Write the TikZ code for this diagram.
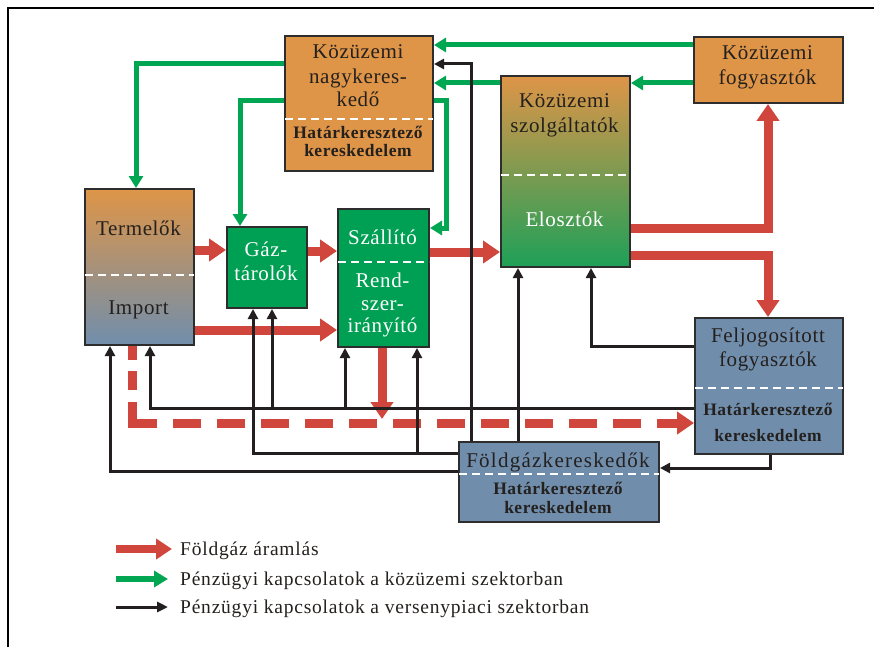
\documentclass[tikz,border=0pt]{standalone}
\usepackage{fontspec}
\setmainfont{Liberation Serif}[LetterSpace=3]
\usetikzlibrary{arrows.meta}
\pgfdeclarelayer{bg}
\pgfsetlayers{bg,main}
\definecolor{orng}{RGB}{222,149,72}
\definecolor{gbox}{RGB}{0,160,84}
\definecolor{bgray}{RGB}{112,142,172}
\definecolor{redc}{RGB}{208,70,60}
\definecolor{greenc}{RGB}{0,166,81}
\definecolor{blkc}{RGB}{35,31,32}
\definecolor{txtc}{RGB}{36,32,30}
\definecolor{bordc}{RGB}{45,45,45}
\definecolor{olive}{RGB}{158,160,82}
\definecolor{ksgreen}{RGB}{30,160,88}
\begin{document}
\begin{tikzpicture}[x=1pt,y=-1pt,
  box/.style={draw=bordc, line width=2pt, inner sep=0pt, anchor=north west},
  sep/.style={draw=white, line width=2.5pt, dash pattern=on 8pt off 5pt},
  t/.style={anchor=base, inner sep=0pt, font=\fontsize{21}{24}\selectfont, text=txtc},
  tb/.style={anchor=base, inner sep=0pt, font=\fontsize{17.5}{19}\selectfont\bfseries, text=txtc},
  tw/.style={anchor=base, inner sep=0pt, font=\fontsize{21}{24}\selectfont, text=white},
  tl/.style={anchor=base west, inner sep=0pt, font=\fontsize{19.5}{23}\selectfont\addfontfeatures{LetterSpace=4}, text=txtc},
  rarr/.style={draw=redc, line width=9pt, -{Triangle[length=17pt,width=22pt]}},
  garr/.style={draw=greenc, line width=5pt, -{Triangle[length=12pt,width=14pt]}},
  barr/.style={draw=blkc, line width=3pt, -{Triangle[length=10pt,width=10pt]}}
]
\useasboundingbox (0,0) rectangle (874,647);
\begin{pgfonlayer}{bg}
\fill[white] (0,0) rectangle (874,647);
\end{pgfonlayer}
\draw[line width=2.5pt, draw=black] (8,647) -- (8,8) -- (874,8);

% boxes
\node[box, fill=orng, minimum width=148pt, minimum height=135pt] (KN) at (284,35) {};
\node[box, fill=orng, minimum width=149pt, minimum height=66pt] (KF) at (693,36) {};
\node[box, top color=orng, middle color=olive, bottom color=ksgreen, minimum width=129pt, minimum height=191pt] (KS) at (500,75) {};
\node[box, top color=orng, bottom color=bgray, minimum width=109pt, minimum height=156pt] (TI) at (84,188) {};
\node[box, fill=gbox, minimum width=80pt, minimum height=81pt] (GT) at (226,226) {};
\node[box, fill=gbox, minimum width=91pt, minimum height=138pt] (SR) at (337,208) {};
\node[box, fill=bgray, minimum width=148pt, minimum height=136pt] (FF) at (694,317) {};
\node[box, fill=bgray, minimum width=200pt, minimum height=80pt] (FK) at (458,441) {};

% separators
\draw[sep] ([xshift=1pt]KN.west |- 0,119) -- ([xshift=-1pt]KN.east |- 0,119);
\draw[sep] ([xshift=1pt]KS.west |- 0,175) -- ([xshift=-1pt]KS.east |- 0,175);
\draw[sep] ([xshift=1pt]TI.west |- 0,275) -- ([xshift=-1pt]TI.east |- 0,275);
\draw[sep] ([xshift=1pt]SR.west |- 0,262) -- ([xshift=-1pt]SR.east |- 0,262);
\draw[sep] ([xshift=1pt]FF.west |- 0,388) -- ([xshift=-1pt]FF.east |- 0,388);
\draw[sep] ([xshift=1pt]FK.west |- 0,474) -- ([xshift=-1pt]FK.east |- 0,474);

% texts
\node[t] (kn1) at (358,59) {Közüzemi};
\node[t] (kn2) at (358,84) {nagykeres-};
\node[t] (kn3) at (358,107) {kedő};
\node[tb] (kn4) at (358,139) {Határkeresztező};
\node[tb] (kn5) at (358,157) {kereskedelem};
\node[t] (kf1) at (767.5,60) {Közüzemi};
\node[t] (kf2) at (767.5,85) {fogyasztók};
\node[t] (ks1) at (564.5,108) {Közüzemi};
\node[t] (ks2) at (564.5,133) {szolgáltatók};
\node[tw] (ks3) at (564.5,226) {Elosztók};
\node[t] (ti1) at (138.5,235) {Termelők};
\node[t] (ti2) at (138.5,314) {Import};
\node[tw] (gt1) at (266,256) {Gáz-};
\node[tw] (gt2) at (266,280) {tárolók};
\node[tw] (sr1) at (382.5,244) {Szállító};
\node[tw] (sr2) at (382.5,287) {Rend-};
\node[tw] (sr3) at (382.5,310) {szer-};
\node[tw] (sr4) at (382.5,332) {irányító};
\node[t] (ff1) at (768,342) {Feljogosított};
\node[t] (ff2) at (768,366) {fogyasztók};
\node[tb] (ff3) at (768,415) {Határkeresztező};
\node[tb] (ff4) at (768,441) {kereskedelem};
\node[t, font=\fontsize{21}{24}\selectfont\addfontfeatures{LetterSpace=6}] (fk1) at (558,467) {Földgázkereskedők};
\node[tb] (fk2) at (558,494) {Határkeresztező};
\node[tb] (fk3) at (558,513) {kereskedelem};

% legend
\coordinate (lr1) at (116,549); \coordinate (lr2) at (172,549);
\coordinate (lg1) at (116,579); \coordinate (lg2) at (168,579);
\coordinate (lb1) at (116,607); \coordinate (lb2) at (168,607);
\draw[rarr, line width=8pt, -{Triangle[length=16pt,width=20pt]}] (lr1) -- (lr2);
\draw[garr, line width=6pt, -{Triangle[length=14pt,width=16pt]}] (lg1) -- (lg2);
\draw[barr, line width=3pt, -{Triangle[length=11pt,width=10pt]}] (lb1) -- (lb2);
\node[tl] (leg1) at (180,555) {Földgáz áramlás};
\node[tl] (leg2) at (180,585) {Pénzügyi kapcsolatok a közüzemi szektorban};
\node[tl] (leg3) at (180,613) {Pénzügyi kapcsolatok a versenypiaci szektorban};

\begin{pgfonlayer}{bg}
% red flows
\draw[rarr] (TI.east |- 0,250) -- (GT.west |- 0,250);
\draw[rarr] (GT.east |- 0,251) -- (SR.west |- 0,251);
\draw[rarr] (TI.east |- 0,330) -- (SR.west |- 0,330);
\draw[rarr] (SR.east |- 0,252) -- (KS.west |- 0,252);
\draw[rarr] (KS.east |- 0,228) -| (KF.south -| 768,0);
\draw[rarr] (KS.east |- 0,255) -| (FF.north -| 768,0);
\coordinate (rtip) at (382,419);
\draw[rarr] (SR.south -| 382,0) -- (rtip);
\draw[rarr, dash pattern=on 14pt off 11pt on 19pt off 12pt on 46pt off 16pt on 28pt off 16pt on 28pt off 16pt on 28pt off 16pt on 28pt off 16pt on 28pt off 16pt on 28pt off 16pt on 28pt off 16pt on 28pt off 16pt on 28pt off 16pt on 28pt off 16pt on 28pt off 16pt on 28pt off 16pt on 28pt off 16pt on 28pt off 16pt] (TI.south -| 132,0) |- (FF.west |- 0,423);
% green flows
\draw[garr] (KF.west |- 0,45) -- (KN.east |- 0,45);
\draw[garr] (KF.west |- 0,83) -- (KS.east |- 0,83);
\draw[garr] (KS.west |- 0,83) -- (KN.east |- 0,83);
\draw[garr] (KN.west |- 0,64) -| (TI.north -| 136,0);
\draw[garr] (KN.west |- 0,101) -| (GT.north -| 240,0);
\draw[garr] (KN.east |- 0,101) -- (446,101) -- (446,228) -- (SR.east |- 0,228);
% black flows
\draw[barr] (FK.north -| 471,0) |- (KN.east |- 0,64);
\draw[barr] (FK.north -| 518,0) -- (KS.south -| 518,0);
\draw[barr] (FF.west |- 0,346) -| (KS.south -| 591,0);
\draw[barr] (FF.south -| 770,0) |- (FK.east |- 0,468);
\draw[barr] (FF.west |- 0,408) -| (TI.south -| 150,0);
\draw[barr] (272,408) -- (GT.south -| 272,0);
\draw[barr] (345,408) -- (SR.south -| 345,0);
\draw[barr] (FK.west |- 0,453) -| (GT.south -| 253,0);
\draw[barr] (417,453) -- (SR.south -| 417,0);
\draw[barr] (FK.west |- 0,471) -| (TI.south -| 110,0);
\end{pgfonlayer}
\end{tikzpicture}
\end{document}
